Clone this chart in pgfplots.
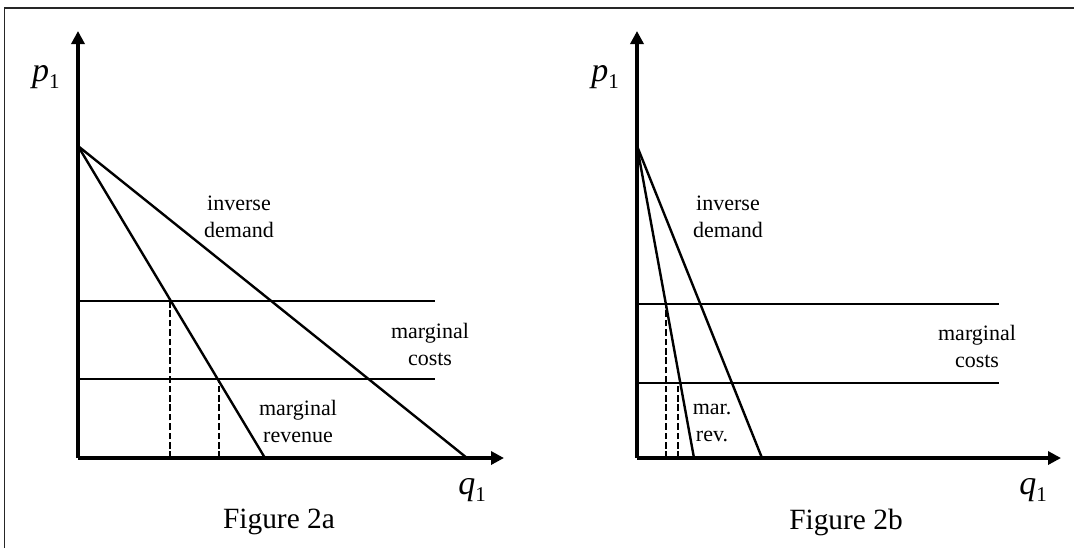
\documentclass[border=0pt]{standalone}
\usepackage{fontspec}
\setmainfont{Liberation Serif}
\usepackage{pgfplots}
\pgfplotsset{compat=1.18}
\usetikzlibrary{arrows.meta}

% 1 px of the reference = 0.5pt; axis units are pixels from the origin
\pgfplotsset{
  econ/.style={
    scale only axis, anchor=south west, clip=false,
    height=213.5pt, ymin=0, ymax=427,
    xmin=0,
    axis lines=left, xtick=\empty, ytick=\empty,
    axis line style={line width=2.4pt, -{Triangle[length=6.5pt,width=6.5pt]}},
  },
  curve/.style={black, line width=1.2pt, mark=none},
  drop/.style={black, line width=1.2pt, mark=none, dash pattern=on 3.3pt off 1.4pt},
}
\newcommand{\lab}{\fontsize{11}{13.5}\selectfont}
\newcommand{\var}[1]{{\fontsize{17}{18}\selectfont\textit{#1}\raisebox{-3.5pt}{\fontsize{10.5}{10}\selectfont 1}}}

\begin{document}
\begin{tikzpicture}
\path[use as bounding box] (0,0) rectangle (537pt,274pt);
\draw[line width=0.6pt, black!85] (2.35pt,0) -- (2.35pt,270pt) -- (537pt,270pt);

% Figure 2a
\begin{axis}[econ, at={(39pt,45pt)}, width=213pt, xmax=426]
\addplot[curve] coordinates {(0,312) (389,0)};
\addplot[curve] coordinates {(0,312) (187,0)};
\addplot[curve] coordinates {(0,157) (357,157)};
\addplot[curve] coordinates {(0,79) (357,79)};
\addplot[drop] coordinates {(92,0) (92,157)};
\addplot[drop] coordinates {(141,0) (141,79)};
\node[align=center, font=\lab] at (axis cs:161,241) {inverse\\demand};
\node[align=center, font=\lab] at (axis cs:352,114) {marginal\\costs};
\node[align=center, font=\lab] at (axis cs:220,37) {marginal\\revenue};
\node at (axis cs:-32,381) {\var{p}};
\node at (axis cs:394,-32) {\var{q}};
\node[font=\fontsize{14.7}{16}\selectfont] at (axis cs:201,-64) {Figure 2a};
\end{axis}

% Figure 2b
\begin{axis}[econ, at={(318.5pt,45pt)}, width=212pt, xmax=424]
\addplot[curve] coordinates {(0,312) (125,0)};
\addplot[curve] coordinates {(0,312) (57,0)};
\addplot[curve] coordinates {(0,154) (362,154)};
\addplot[curve] coordinates {(0,75) (362,75)};
\addplot[drop] coordinates {(29,0) (29,154)};
\addplot[drop] coordinates {(41,0) (41,75)};
\node[align=center, font=\lab] at (axis cs:91,241) {inverse\\demand};
\node[align=center, font=\lab] at (axis cs:340,112) {marginal\\costs};
\node[align=center, font=\lab] at (axis cs:75,35) {mar.\\rev.};
\node at (axis cs:-32,381) {\var{p}};
\node at (axis cs:396,-32) {\var{q}};
\node[font=\fontsize{14.7}{16}\selectfont] at (axis cs:209,-64) {Figure 2b};
\end{axis}
\end{tikzpicture}
\end{document}
